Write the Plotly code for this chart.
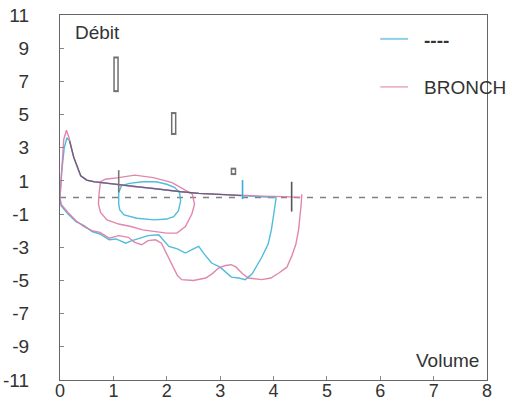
import plotly.graph_objects as go

# ---- data (Volume, Débit) ----
blue_exp_v = [0, 0.03, 0.08, 0.13, 0.18, 0.26, 0.39, 0.5, 0.64, 0.9, 1.13, 1.4, 1.76, 2.0, 2.26, 2.6, 3.0, 3.4, 3.6, 3.9, 4.05]
blue_exp_f = [0, 1.5, 3.0, 3.6, 3.4, 2.4, 1.3, 1.05, 0.95, 0.85, 0.75, 0.65, 0.55, 0.45, 0.35, 0.25, 0.18, 0.12, 0.08, 0.04, 0]

pink_exp_v = [0, 0.03, 0.07, 0.12, 0.17, 0.25, 0.38, 0.5, 0.64, 0.9, 1.13, 1.4, 1.76, 2.0, 2.26, 2.6, 3.0, 3.4, 3.8, 4.2, 4.5]
pink_exp_f = [0, 1.8, 3.5, 4.05, 3.6, 2.5, 1.35, 1.05, 0.95, 0.85, 0.75, 0.65, 0.55, 0.45, 0.35, 0.25, 0.18, 0.12, 0.08, 0.05, 0]

blue_insp_v = [0, 0.02, 0.15, 0.3, 0.45, 0.6, 0.75, 0.92, 1.05, 1.23, 1.35, 1.48, 1.65, 1.85, 1.95, 2.04, 2.2, 2.35, 2.5, 2.6,
               2.7, 2.84, 3.0, 3.21, 3.35, 3.47, 3.6, 3.78, 3.9, 3.96, 4.0, 4.03, 4.05]
blue_insp_f = [0, -0.5, -1.0, -1.45, -1.7, -2.05, -2.2, -2.55, -2.5, -2.75, -2.6, -2.45, -2.3, -2.25, -2.6, -2.95, -3.1, -3.35, -3.1, -2.95,
               -3.4, -3.95, -4.2, -4.8, -4.85, -4.95, -4.6, -3.6, -2.8, -1.95, -1.1, -0.35, 0]

pink_insp_v = [0, 0.02, 0.15, 0.3, 0.45, 0.6, 0.75, 0.92, 1.1, 1.28, 1.4, 1.53, 1.65, 1.79, 1.9, 2.0, 2.1, 2.2, 2.28, 2.5,
               2.73, 2.85, 2.97, 3.1, 3.21, 3.3, 3.42, 3.53, 3.78, 3.95, 4.1, 4.25, 4.34, 4.42, 4.47, 4.5, 4.52, 4.53]
pink_insp_f = [0, -0.4, -0.9, -1.4, -1.75, -2.0, -2.1, -2.45, -2.3, -2.4, -2.7, -2.85, -2.6, -2.55, -2.75, -3.4, -4.15, -4.7, -4.95, -5.0,
               -4.85, -4.6, -4.25, -4.1, -4.05, -4.2, -4.6, -4.85, -4.95, -4.85, -4.55, -4.2, -3.55, -2.8, -1.95, -1.2, -0.35, 0.2]

pink_tid_v = [0.73, 0.72, 0.76, 0.88, 1.1, 1.33, 1.55, 1.76, 2.0, 2.19, 2.35, 2.47, 2.52, 2.48, 2.3, 2.1, 1.75, 1.4, 1.1, 0.85, 0.76, 0.73]
pink_tid_f = [0.2, -0.4, -0.9, -1.35, -1.6, -1.75, -1.95, -2.05, -2.15, -2.15, -1.75, -1.0, -0.4, 0.2, 0.55, 0.9, 1.2, 1.35, 1.2, 1.1, 0.95, 0.2]

blue_tid_v = [1.1, 1.1, 1.12, 1.2, 1.44, 1.76, 2.0, 2.13, 2.22, 2.26, 2.24, 2.15, 2.0, 1.8, 1.55, 1.3, 1.15, 1.1]
blue_tid_f = [0.3, -0.4, -0.75, -1.05, -1.25, -1.35, -1.3, -1.15, -0.8, -0.2, 0.3, 0.6, 0.8, 0.95, 0.95, 0.85, 0.7, 0.3]

# predicted-value markers (volume, low flow, high flow)
pred_v = [1.05, 2.13, 3.25]
pred_lo = [6.35, 3.77, 1.35]
pred_hi = [8.5, 5.15, 1.8]

# end-of-test / event ticks
tick_v = [1.1, 3.42, 4.34]
tick_lo = [0.3, -0.1, -0.85]
tick_hi = [1.65, 1.05, 0.95]
tick_col = ["#777777", "#3aaed6", "#555555"]

x_ticks = [0, 1, 2, 3, 4, 5, 6, 7, 8]
y_ticks = [11, 9, 7, 5, 3, 1, -1, -3, -5, -7, -9, -11]

BLUE = "#3cb6d8"
PINK = "#e07aa6"

fig = go.Figure()

# zero reference line
fig.add_trace(go.Scatter(x=[0, 8], y=[0, 0], mode="lines",
                         line=dict(color="#808080", width=1.3, dash="6px,7px"), hoverinfo="skip"))

for v, f, c in [(blue_insp_v, blue_insp_f, BLUE), (pink_insp_v, pink_insp_f, PINK),
                (blue_tid_v, blue_tid_f, BLUE), (pink_tid_v, pink_tid_f, PINK),
                (blue_exp_v, blue_exp_f, BLUE), (pink_exp_v, pink_exp_f, PINK)]:
    fig.add_trace(go.Scatter(x=v, y=f, mode="lines", line=dict(color=c, width=1.4),
                             opacity=0.9, hoverinfo="skip"))

# dark overlap line on shared descending limb
fig.add_trace(go.Scatter(x=blue_exp_v[4:18], y=blue_exp_f[4:18], mode="lines",
                         line=dict(color="#5a5070", width=1.2), opacity=0.8, hoverinfo="skip"))

for v, lo, hi in zip(pred_v, pred_lo, pred_hi):
    fig.add_trace(go.Scatter(x=[v, v], y=[lo, hi], mode="lines",
                             line=dict(color="#707070", width=5.5), hoverinfo="skip"))
    fig.add_trace(go.Scatter(x=[v, v], y=[lo + 0.12, hi - 0.12], mode="lines",
                             line=dict(color="white", width=2.5), hoverinfo="skip"))

for v, lo, hi, c in zip(tick_v, tick_lo, tick_hi, tick_col):
    fig.add_trace(go.Scatter(x=[v, v], y=[lo, hi], mode="lines",
                             line=dict(color=c, width=1.6), hoverinfo="skip"))

FONT = "Liberation Sans, Arial, sans-serif"

fig.update_layout(
    width=507, height=403,
    margin=dict(l=60, r=20, t=15, b=23, autoexpand=False),
    paper_bgcolor="white", plot_bgcolor="white",
    showlegend=False,
    font=dict(family=FONT, size=19, color="#333333"),
    xaxis=dict(range=[0, 8], tickvals=x_ticks, ticktext=[str(t) for t in x_ticks], automargin=False,
               showgrid=False, zeroline=False, showline=True, linecolor="#666666", linewidth=1.2,
               mirror=True, ticks="inside", ticklen=4, tickcolor="#888888",
               ticklabelstandoff=-6, tickfont=dict(size=18, color="#333333")),
    yaxis=dict(range=[-11, 11], tickvals=y_ticks, ticktext=[str(t) for t in y_ticks], automargin=False,
               showgrid=False, zeroline=False, showline=True, linecolor="#666666", linewidth=1.2,
               mirror=True, ticks="inside", ticklen=4, tickcolor="#888888",
               ticklabelstandoff=26, tickfont=dict(size=19, color="#333333")),
    shapes=[
        dict(type="line", xref="paper", yref="paper", x0=0.750, x1=0.815, y0=0.9345, y1=0.9345,
             line=dict(color="#8fd0e6", width=2)),
        dict(type="line", xref="paper", yref="paper", x0=0.750, x1=0.815, y0=0.803, y1=0.803,
             line=dict(color="#eaa6c2", width=1.5)),
    ],
    annotations=[
        dict(text="Débit", x=0.03, y=0.952, xref="paper", yref="paper", xanchor="left", yanchor="middle",
             showarrow=False, font=dict(size=19, color="#333333")),
        dict(text="Volume", x=0.985, y=0.02, xref="paper", yref="paper", xanchor="right", yanchor="bottom",
             showarrow=False, font=dict(size=19, color="#333333")),
        dict(text="<b>----</b>", x=0.848, y=0.93, xref="paper", yref="paper", xanchor="left", yanchor="middle",
             showarrow=False, font=dict(size=19, color="#333333")),
        dict(text="BRONCH", x=0.848, y=0.80, xref="paper", yref="paper", xanchor="left", yanchor="middle",
             showarrow=False, font=dict(size=19, color="#333333")),
    ],
)

fig.write_html("out.html")
